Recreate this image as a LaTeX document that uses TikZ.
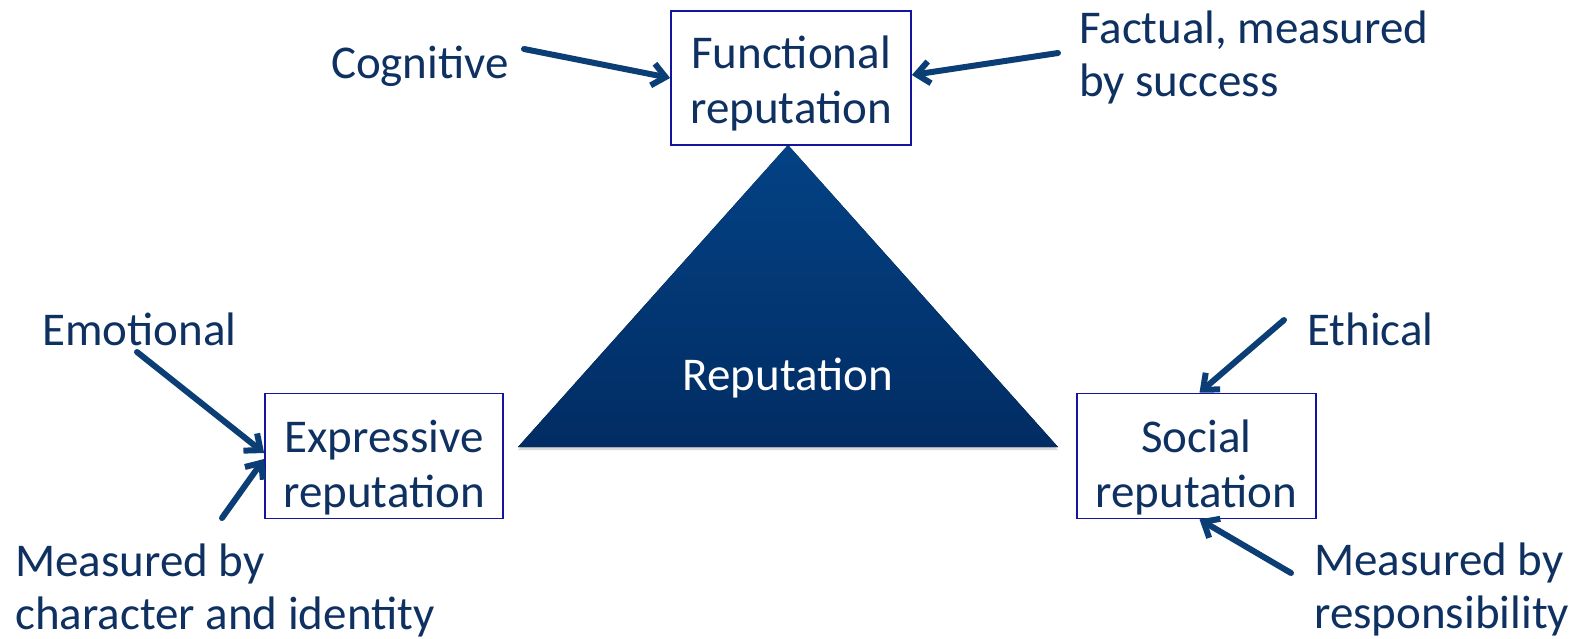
\documentclass[tikz,border=0pt]{standalone}
\usepackage{fontspec}
\setmainfont{Carlito}
\usetikzlibrary{arrows.meta,shadows}
\definecolor{navytext}{RGB}{14,49,98}
\definecolor{arrowblue}{RGB}{12,62,118}
\definecolor{boxblue}{RGB}{20,20,160}
\definecolor{tritop}{RGB}{3,66,133}
\definecolor{tribot}{RGB}{2,44,99}
\begin{document}
\begin{tikzpicture}[x=1pt,y=-1pt,
  lbl/.style={font=\fontsize{47}{55}\selectfont, text=navytext, inner sep=0pt},
  frame/.style={draw=boxblue, line width=1.8pt, fill=white, inner sep=0pt},
  pointer/.style={draw=arrowblue, line width=6pt, line cap=round,
    -{Straight Barb[length=13pt,width=22pt]}},
]
\useasboundingbox (0,0) rectangle (1587,638);

% the three reputation boxes
\node[frame, minimum width=240pt, minimum height=134pt] (func) at (791,78) {};
\node[frame, minimum width=238pt, minimum height=125pt] (expr) at (384,456) {};
\node[frame, minimum width=239pt, minimum height=125pt] (soc) at (1196.5,456) {};

\node[lbl, anchor=base] (funcA) at (791,68) {Functional};
\node[lbl, anchor=base] (funcB) at (791,123) {reputation};
\node[lbl, anchor=base] (exprA) at (384,452) {Expressive};
\node[lbl, anchor=base] (exprB) at (384,507) {reputation};
\node[lbl, anchor=base] (socA) at (1196.5,452) {Social};
\node[lbl, anchor=base] (socB) at (1196.5,507) {reputation};

% central triangle
\coordinate (apex) at (788,145);
\coordinate (baseL) at (518,447);
\coordinate (baseR) at (1058,447);
\fill[top color=tritop, bottom color=tribot,
  drop shadow={opacity=0.3, shadow xshift=0pt, shadow yshift=-3pt}]
  (apex) -- (baseR) -- (baseL) -- cycle;
\node[lbl, anchor=base, text=white] (rep) at (788,390) {Reputation};

% side labels
\node[lbl, anchor=base east] (cog) at (509,78) {Cognitive};
\node[lbl, anchor=base west] (factA) at (1079,43) {Factual, measured};
\node[lbl, anchor=base west] (factB) at (1079,96) {by success};
\node[lbl, anchor=base west] (emo) at (42,345) {Emotional};
\node[lbl, anchor=base west] (mcharA) at (15,576) {Measured by};
\node[lbl, anchor=base west] (mcharB) at (15,629) {character and identity};
\node[lbl, anchor=base west] (eth) at (1307,345) {Ethical};
\node[lbl, anchor=base west] (mrespA) at (1314,575) {Measured by};
\node[lbl, anchor=base west] (mrespB) at (1314,628) {responsibility};

% arrow tails
\coordinate (cogT) at (524,49);
\coordinate (factT) at (1058,53);
\coordinate (emoT) at (137,352);
\coordinate (mcharT) at (222,518);
\coordinate (ethT) at (1284,320);
\coordinate (mrespT) at (1291,573);

\draw[pointer] (cogT) -- (func.west);
\draw[pointer] (factT) -- ([yshift=3pt]func.east);
\draw[pointer] (emoT) -- ([yshift=3pt]expr.west);
\draw[pointer] (mcharT) -- ([yshift=-3pt]expr.west);
\draw[pointer] (ethT) -- ([xshift=3pt]soc.north);
\draw[pointer] (mrespT) -- ([xshift=3pt]soc.south);
\end{tikzpicture}
\end{document}
